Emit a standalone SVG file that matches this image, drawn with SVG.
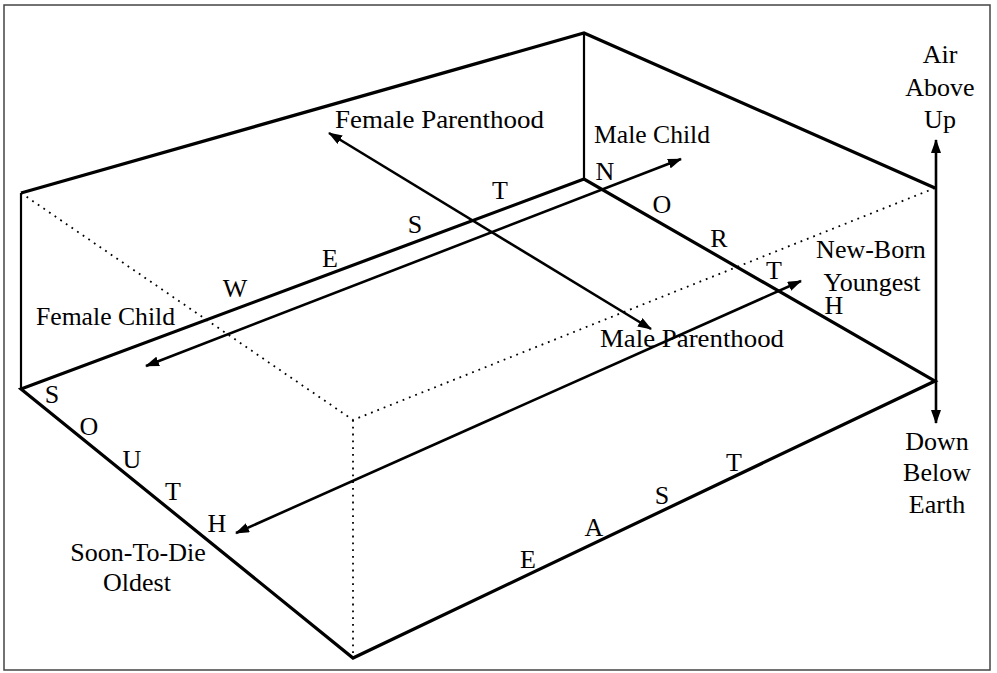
<svg xmlns="http://www.w3.org/2000/svg" width="997" height="673" viewBox="0 0 997 673">
<defs>
<marker id="ah" viewBox="0 0 14 10" refX="13" refY="5" markerWidth="14" markerHeight="10" markerUnits="userSpaceOnUse" orient="auto-start-reverse">
<path d="M0,0 L14,5 L0,10 z" fill="#000"/>
</marker>
<style>
.t{font-family:"Liberation Serif","Times New Roman",serif;font-size:26px;fill:#000}
.c{text-anchor:middle}
.edge{stroke:#000;stroke-width:3.2;fill:none;stroke-linejoin:miter}
.thin{stroke:#000;stroke-width:2.2;fill:none}
.dot{stroke:#000;stroke-width:1.8;fill:none;stroke-dasharray:1.8 5}
.arr{stroke:#000;stroke-width:2.6;fill:none}
</style>
</defs>
<rect x="0" y="0" width="997" height="673" fill="#fff"/>
<rect id="frame" x="4" y="5" width="986" height="665" fill="none" stroke="#444" stroke-width="1.5"/>
<g id="box">
<path class="edge" d="M21,193 L584,33 L935,188"/>
<path class="thin" d="M21,193 L21,389"/>
<path class="thin" d="M584,33 L584,179"/>
<path class="edge" d="M21,389 L584,179 L935,381 L353,658 Z"/>
<path class="dot" d="M21,193 L353,420 L935,188"/>
<path class="dot" d="M353,420 L353,656"/>
</g>
<g id="connectors">
<line class="arr" x1="329" y1="133" x2="651" y2="329" marker-start="url(#ah)" marker-end="url(#ah)"/>
<line class="arr" x1="146" y1="366" x2="681" y2="159" marker-start="url(#ah)" marker-end="url(#ah)"/>
<line class="arr" x1="236" y1="533" x2="801" y2="281" marker-start="url(#ah)" marker-end="url(#ah)"/>
<line class="arr" x1="936" y1="140" x2="936" y2="423" marker-start="url(#ah)" marker-end="url(#ah)"/>
</g>
<g id="female-parenthood"><text class="t" x="335" y="128" textLength="209" lengthAdjust="spacingAndGlyphs">Female Parenthood</text></g>
<g id="male-child"><text class="t" x="594" y="143" textLength="116" lengthAdjust="spacingAndGlyphs">Male Child</text></g>
<g id="female-child"><text class="t" x="36" y="325" textLength="139" lengthAdjust="spacingAndGlyphs">Female Child</text></g>
<g id="male-parenthood"><text class="t" x="600" y="347" textLength="184" lengthAdjust="spacingAndGlyphs">Male Parenthood</text></g>
<g id="new-born"><text class="t c" x="871" y="258">New-Born</text><text class="t c" x="872" y="291">Youngest</text></g>
<g id="air"><text class="t c" x="940" y="63">Air</text><text class="t c" x="940" y="96">Above</text><text class="t c" x="940" y="128">Up</text></g>
<g id="down"><text class="t c" x="937" y="450">Down</text><text class="t c" x="937" y="481">Below</text><text class="t c" x="937" y="513">Earth</text></g>
<g id="soon-to-die"><text class="t c" x="138" y="561">Soon-To-Die</text><text class="t c" x="137" y="591">Oldest</text></g>
<g id="west">
<text class="t c" x="235" y="297">W</text>
<text class="t c" x="330" y="267">E</text>
<text class="t c" x="415" y="233">S</text>
<text class="t c" x="500" y="199">T</text>
</g>
<g id="north">
<text class="t c" x="605" y="180">N</text>
<text class="t c" x="662" y="213">O</text>
<text class="t c" x="719" y="247">R</text>
<text class="t c" x="774" y="279">T</text>
<text class="t c" x="834" y="314">H</text>
</g>
<g id="south">
<text class="t c" x="52" y="403">S</text>
<text class="t c" x="89" y="435">O</text>
<text class="t c" x="132" y="468">U</text>
<text class="t c" x="173" y="500">T</text>
<text class="t c" x="217" y="532">H</text>
</g>
<g id="east">
<text class="t c" x="528" y="568">E</text>
<text class="t c" x="594" y="536">A</text>
<text class="t c" x="662" y="504">S</text>
<text class="t c" x="734" y="471">T</text>
</g>
</svg>
